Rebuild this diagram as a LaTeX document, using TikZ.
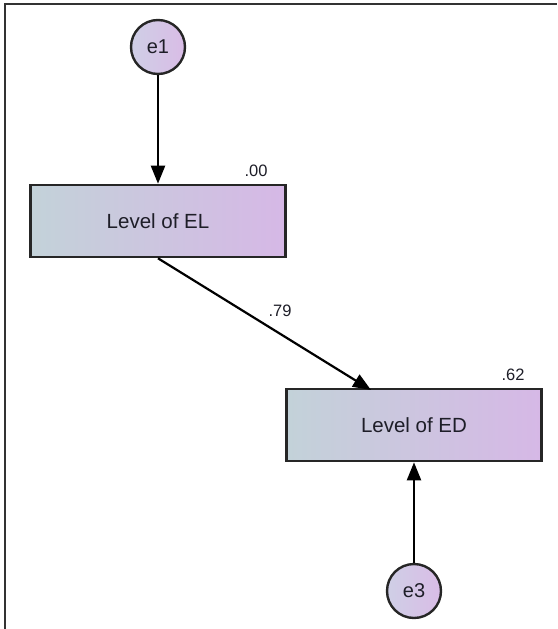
\documentclass[tikz,border=0pt]{standalone}
\usepackage{fontspec}
\setmainfont{Liberation Sans}
\usetikzlibrary{arrows.meta}
\definecolor{boxleft}{HTML}{C3D2D9}
\definecolor{boxright}{HTML}{D6B8E6}
\definecolor{errleft}{HTML}{CFCFE6}
\definecolor{errright}{HTML}{D9BCE6}
\definecolor{labeltext}{HTML}{1E1E28}
\tikzset{
  observed/.style={draw=black!85, line width=2.6pt, rectangle,
    minimum width=255pt, minimum height=72pt, inner sep=0pt,
    left color=boxleft, right color=boxright, text=labeltext,
    font=\fontsize{20.5}{22}\selectfont},
  errterm/.style={draw=black!85, line width=2.4pt, circle,
    minimum size=54pt, inner sep=0pt,
    left color=errleft, right color=errright, text=labeltext,
    font=\fontsize{20}{22}\selectfont},
  regpath/.style={line width=2.2pt, -{Triangle[length=18pt,width=14pt]}},
  estimate/.style={font=\fontsize{16.5}{18}\selectfont, inner sep=1pt, text=labeltext}
}
\begin{document}
\begin{tikzpicture}[x=1pt,y=-1pt]
  \useasboundingbox (0,0) rectangle (557,629);
  % frame
  \draw[line width=2pt, black!80] (5,629) -- (5,4) -- (557,4);
  % variables
  \node[errterm] (e1) at (158,47) {e1};
  \node[observed] (el) at (158,221) {Level of EL};
  \node[observed] (ed) at (414,425) {Level of ED};
  \node[errterm] (e3) at (414,591) {e3};
  % squared multiple correlations
  \node[estimate] (r1) at (256,171) {.00};
  \node[estimate] (r2) at (513,375) {.62};
  % paths
  \draw[regpath] (e1) -- (el);
  \coordinate (t2) at (371,390);
  \draw[regpath] (el.south) -- (t2);
  \node[estimate] (w) at (280,311) {.79};
  \draw[regpath] (e3) -- (ed);
\end{tikzpicture}
\end{document}
